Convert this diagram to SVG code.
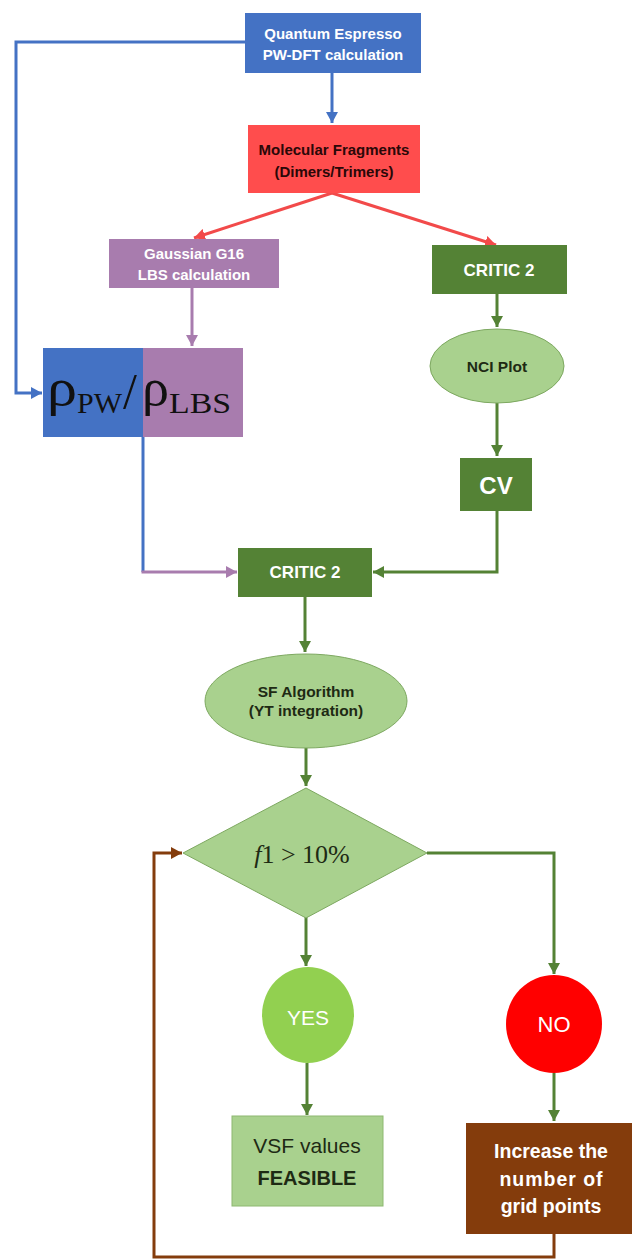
<svg xmlns="http://www.w3.org/2000/svg" width="632" height="1260" viewBox="0 0 632 1260">
<defs>
<style>
.t{font-family:"Liberation Sans",Arial,sans-serif;text-anchor:middle}
.b{font-weight:bold}
.w{fill:#ffffff}
.d{fill:#1e2a14}
.c{fill:none;stroke-width:3}
.blue{stroke:#4472C4}.red{stroke:#F24A4A}.pur{stroke:#A87CAE}.grn{stroke:#548235}.brn{stroke:#843C0C}
.lg{fill:#A9D18E;stroke:#7DA860;stroke-width:1}
.sr{font-family:"Liberation Serif","Times New Roman",serif;fill:#111111}
</style>
<marker id="aB" markerWidth="12" markerHeight="13" refX="11" refY="6.5" orient="auto" markerUnits="userSpaceOnUse"><path d="M0,0.5 L11,6.5 L0,12.5 Z" fill="#4472C4"/></marker>
<marker id="aR" markerWidth="12" markerHeight="13" refX="11" refY="6.5" orient="auto" markerUnits="userSpaceOnUse"><path d="M0,0.5 L11,6.5 L0,12.5 Z" fill="#F24A4A"/></marker>
<marker id="aP" markerWidth="12" markerHeight="13" refX="11" refY="6.5" orient="auto" markerUnits="userSpaceOnUse"><path d="M0,0.5 L11,6.5 L0,12.5 Z" fill="#A87CAE"/></marker>
<marker id="aG" markerWidth="12" markerHeight="13" refX="11" refY="6.5" orient="auto" markerUnits="userSpaceOnUse"><path d="M0,0.5 L11,6.5 L0,12.5 Z" fill="#548235"/></marker>
<marker id="aN" markerWidth="12" markerHeight="13" refX="11" refY="6.5" orient="auto" markerUnits="userSpaceOnUse"><path d="M0,0.5 L11,6.5 L0,12.5 Z" fill="#843C0C"/></marker>
</defs>
<rect width="632" height="1260" fill="#ffffff"/>

<g id="connectors">
<path class="c blue" d="M332,73 V123" marker-end="url(#aB)"/>
<path class="c blue" d="M245,42 H16 V393 H42" marker-end="url(#aB)"/>
<path class="c red" d="M332,193 L194,238" marker-end="url(#aR)"/>
<path class="c red" d="M332,193 L496,245" marker-end="url(#aR)"/>
<path class="c pur" d="M192,288 V346" marker-end="url(#aP)"/>
<path class="c grn" d="M497,294 V327" marker-end="url(#aG)"/>
<path class="c grn" d="M497,403 V456" marker-end="url(#aG)"/>
<path class="c grn" d="M497,511 V572 H373" marker-end="url(#aG)"/>
<path class="c blue" d="M143,437 V572"/>
<path class="c pur" d="M141.5,572 H237" marker-end="url(#aP)"/>
<path class="c grn" d="M305,597 V652" marker-end="url(#aG)"/>
<path class="c grn" d="M306,748 V786" marker-end="url(#aG)"/>
<path class="c grn" d="M306,917 V966" marker-end="url(#aG)"/>
<path class="c grn" d="M427,853 H554 V974" marker-end="url(#aG)"/>
<path class="c grn" d="M307,1063 V1115" marker-end="url(#aG)"/>
<path class="c grn" d="M554,1073 V1121" marker-end="url(#aG)"/>
<path class="c brn" d="M554,1234 V1257 H154 V853 H182" marker-end="url(#aN)"/>
</g>

<g id="qe">
<rect x="245" y="13" width="176" height="60" fill="#4472C4"/>
<text class="t b w" x="333" y="39" font-size="15">Quantum Espresso</text>
<text class="t b w" x="333" y="60" font-size="15">PW-DFT calculation</text>
</g>

<g id="fragments">
<rect x="248" y="125" width="172" height="68" fill="#FF4D4D"/>
<text class="t b" x="334" y="155" font-size="15" fill="#2a0808">Molecular Fragments</text>
<text class="t b" x="334" y="177" font-size="15" fill="#2a0808">(Dimers/Trimers)</text>
</g>

<g id="gaussian">
<rect x="109" y="239" width="170" height="49" fill="#A87CAE"/>
<text class="t b w" x="194" y="259" font-size="15">Gaussian G16</text>
<text class="t b w" x="194" y="280" font-size="15">LBS calculation</text>
</g>

<g id="critic-top">
<rect x="432" y="245" width="135" height="49" fill="#548235"/>
<text class="t b w" x="499" y="276" font-size="17">CRITIC 2</text>
</g>

<g id="rho">
<rect x="43" y="348" width="100" height="89" fill="#4472C4"/>
<rect x="143" y="348" width="100" height="89" fill="#A87CAE"/>
<text class="sr" x="47" y="405" font-size="52" textLength="30" lengthAdjust="spacingAndGlyphs">ρ</text>
<text class="sr" x="77" y="413" font-size="30" textLength="45" lengthAdjust="spacingAndGlyphs">PW</text>
<text class="sr" x="123" y="408" font-size="50">/</text>
<text class="sr" x="142" y="405" font-size="52" textLength="27" lengthAdjust="spacingAndGlyphs">ρ</text>
<text class="sr" x="169" y="413" font-size="30" textLength="62" lengthAdjust="spacingAndGlyphs">LBS</text>
</g>

<g id="nci">
<ellipse class="lg" cx="497" cy="366" rx="67" ry="37"/>
<text class="t b d" x="497" y="372" font-size="15.5">NCI Plot</text>
</g>

<g id="cv">
<rect x="460" y="458" width="72" height="53" fill="#548235"/>
<text class="t b w" x="496" y="494" font-size="24">CV</text>
</g>

<g id="critic-mid">
<rect x="238" y="548" width="134" height="49" fill="#548235"/>
<text class="t b w" x="305" y="578" font-size="17">CRITIC 2</text>
</g>

<g id="sf">
<ellipse class="lg" cx="306" cy="701" rx="101" ry="47"/>
<text class="t b d" x="306" y="697" font-size="15.5">SF Algorithm</text>
<text class="t b d" x="306" y="716" font-size="15.5">(YT integration)</text>
</g>

<g id="decision">
<polygon class="lg" points="306,788 427,853 306,918 183,853"/>
<text x="302" y="863" text-anchor="middle" font-family="'Liberation Serif','Times New Roman',serif" font-size="26" fill="#1e2a14"><tspan font-style="italic">f</tspan>1 &gt; 10%</text>
</g>

<g id="yes">
<ellipse cx="308" cy="1015" rx="46" ry="48" fill="#92D050"/>
<text class="t w" x="308" y="1025" font-size="21">YES</text>
</g>

<g id="no">
<ellipse cx="554" cy="1024" rx="48" ry="49" fill="#FF0000"/>
<text class="t w" x="554" y="1032" font-size="22">NO</text>
</g>

<g id="vsf">
<rect x="232" y="1116" width="151" height="90" fill="#A9D18E" stroke="#8DB870" stroke-width="1"/>
<text class="t d" x="307" y="1153" font-size="21">VSF values</text>
<text class="t b d" x="307" y="1185" font-size="20">FEASIBLE</text>
</g>

<g id="increase">
<rect x="466" y="1123" width="166" height="111" fill="#843C0C"/>
<text class="t b w" x="551" y="1158" font-size="19.5">Increase the</text>
<text class="t b w" x="551" y="1186" font-size="19.5" textLength="103" lengthAdjust="spacing">number of</text>
<text class="t b w" x="551" y="1213" font-size="19.5">grid points</text>
</g>
</svg>
